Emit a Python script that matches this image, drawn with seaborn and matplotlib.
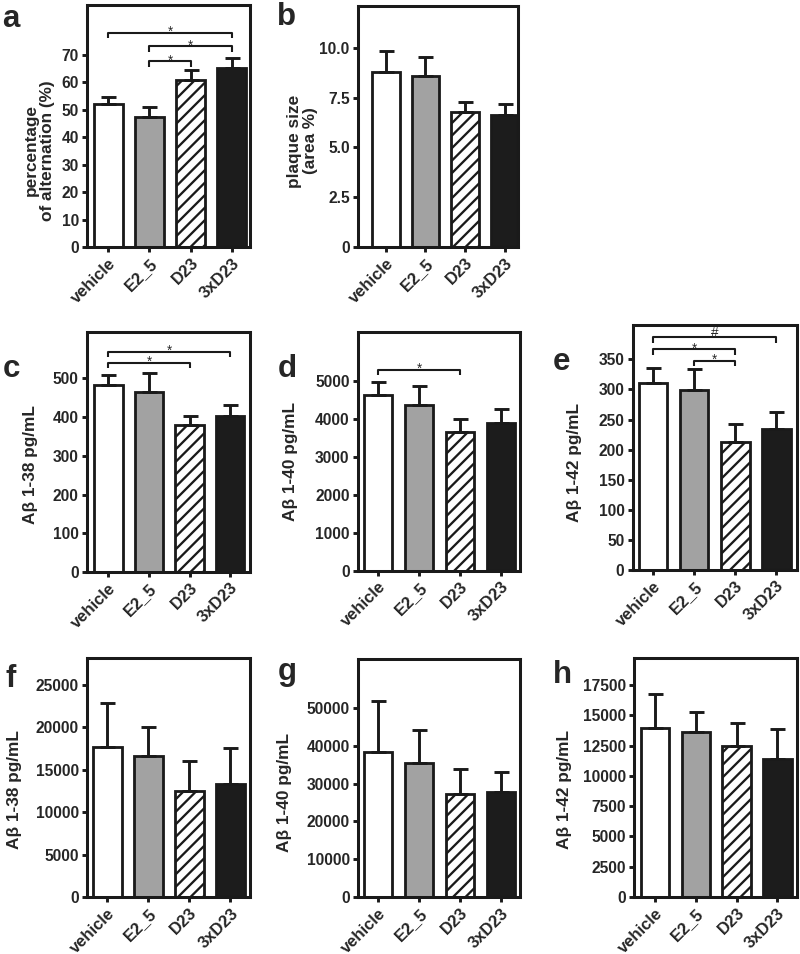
import seaborn as sns
import matplotlib.pyplot as plt
import numpy as np

sns.set_style("ticks")
plt.rcParams['font.family'] = ['Liberation Sans', 'DejaVu Sans']
plt.rcParams['font.weight'] = 'bold'
plt.rcParams['axes.labelweight'] = 'bold'
plt.rcParams['hatch.linewidth'] = 1.1
plt.rcParams['hatch.color'] = '#1a1a1a'

groups = ['vehicle', 'E2_5', 'D23', '3xD23']
bar_colors = ['white', '#a2a2a2', 'white', '#1c1c1c']

# a: percentage of alternation
alt_mean = [51.9, 47.3, 60.6, 65.0]
alt_err = [2.5, 3.6, 3.8, 3.6]
# b: plaque size
plaque_mean = [8.78, 8.61, 6.78, 6.62]
plaque_err = [1.05, 0.94, 0.49, 0.55]
# c-e: Abeta (first set)
ab38_mean = [482, 465, 379, 403]
ab38_err = [28, 50, 24, 28]
ab40_mean = [4631, 4367, 3664, 3902]
ab40_err = [351, 501, 326, 351]
ab42_mean = [311, 299, 213, 234]
ab42_err = [25, 35, 29.5, 29]
# f-h: Abeta (second set)
ab38b_mean = [17660, 16680, 12520, 13340]
ab38b_err = [5180, 3340, 3530, 4200]
ab40b_mean = [38400, 35500, 27150, 27860]
ab40b_err = [13360, 8790, 6590, 5270]
ab42b_mean = [13980, 13600, 12500, 11370]
ab42b_err = [2780, 1650, 1840, 2480]

# significance brackets: (from, to, height, mark)
sig_a = [(0, 3, 78, '*'), (1, 3, 73, '*'), (1, 2, 67.5, '*')]
sig_c = [(0, 3, 569, '*'), (0, 2, 540, '*')]
sig_d = [(0, 2, 5290, '*')]
sig_e = [(0, 3, 386.5, '#'), (0, 2, 366.5, '*'), (1, 2, 347.7, '*')]

panels = [
    # letter, means, errs, ylabel, ticks, ticklabels, ylim top, xlim, axes rect, label coords, letter pos, brackets
    ('a', alt_mean, alt_err, 'percentage\nof alternation (%)', list(range(0, 71, 10)), None, 88,
     (-0.51, 3.45), [0.109, 0.741, 0.204, 0.2537], (-0.20, 0.40), (2, 27), sig_a),
    ('b', plaque_mean, plaque_err, 'plaque size\n(area %)', [0, 2.5, 5, 7.5, 10],
     ['0', '2.5', '5.0', '7.5', '10.0'], 12.1,
     (-0.7, 3.33), [0.4475, 0.741, 0.2, 0.2527], (-0.25, 0.44), (277, 25), []),
    ('c', ab38_mean, ab38_err, 'Aβ 1-38 pg/mL', list(range(0, 501, 100)), None, 620,
     (-0.52, 3.5), [0.109, 0.4004, 0.204, 0.2516], (-0.30, 0.446), (3, 377), sig_c),
    ('d', ab40_mean, ab40_err, 'Aβ 1-40 pg/mL', list(range(0, 5001, 1000)), None, 6290,
     (-0.49, 3.46), [0.4475, 0.4015, 0.2025, 0.2505], (-0.37, 0.456), (278, 377), sig_d),
    ('e', ab42_mean, ab42_err, 'Aβ 1-42 pg/mL', list(range(0, 351, 50)), None, 407,
     (-0.49, 3.5), [0.791, 0.4025, 0.205, 0.2568], (-0.31, 0.437), (553, 370), sig_e),
    ('f', ab38b_mean, ab38b_err, 'Aβ 1-38 pg/mL', list(range(0, 25001, 5000)), None, 28180,
     (-0.49, 3.49), [0.109, 0.0597, 0.204, 0.2505], (-0.40, 0.45), (5, 687), []),
    ('g', ab40b_mean, ab40b_err, 'Aβ 1-40 pg/mL', list(range(0, 50001, 10000)), None, 62960,
     (-0.49, 3.46), [0.4475, 0.0597, 0.2025, 0.2495], (-0.41, 0.44), (278, 680), []),
    ('h', ab42b_mean, ab42b_err, 'Aβ 1-42 pg/mL', list(range(0, 17501, 2500)), None, 19720,
     (-0.52, 3.49), [0.7925, 0.0597, 0.204, 0.2505], (-0.38, 0.45), (553, 683), []),
]

dark = '#1a1a1a'
fig = plt.figure(figsize=(800 / 150, 954 / 150))

for (letter, means, errs, ylabel, yticks, yticklabels, ytop, xlim, rect,
     lab_xy, letter_xy, brackets) in panels:
    ax = fig.add_axes(rect)
    sns.barplot(x=groups, y=means, hue=groups, palette=bar_colors, legend=False,
                saturation=1, width=0.7, edgecolor=dark, linewidth=1.35, ax=ax)
    ax.patches[2].set_hatch('////')
    ax.errorbar(range(4), means, yerr=[np.zeros(4), errs], fmt='none', ecolor=dark,
                elinewidth=1.4, capsize=3.6, capthick=1.4, zorder=5)

    ax.set_xlim(*xlim)
    ax.set_ylim(0, ytop)
    ax.set_yticks(yticks)
    if yticklabels is not None:
        ax.set_yticklabels(yticklabels)
    ax.set_xticks(range(4))
    ax.set_xticklabels(groups, rotation=45, ha='right', rotation_mode='anchor')
    ax.tick_params(axis='both', width=1.4, length=2.5, pad=1.5, color=dark)
    ax.tick_params(axis='y', labelsize=7.5)
    ax.tick_params(axis='x', labelsize=8)
    ax.set_ylabel(ylabel, fontsize=8.3, linespacing=1.05)
    ax.yaxis.set_label_coords(*lab_xy)
    ax.set_xlabel('')
    for sp in ax.spines.values():
        sp.set_visible(True)
        sp.set_linewidth(1.45)
        sp.set_color(dark)

    drop = 0.022 * ytop
    for x0, x1, h, mark in brackets:
        ax.plot([x0, x0, x1, x1], [h - drop, h, h, h - drop], color=dark, lw=1.0,
                solid_capstyle='butt', clip_on=False)
        off = -1.5 if mark == '*' else 0.3
        ax.annotate(mark, xy=((x0 + x1) / 2, h), xytext=(0, off), textcoords='offset points',
                    ha='center', va='baseline', fontsize=6.5, fontweight='normal')

    fig.text(letter_xy[0] / 800, 1 - letter_xy[1] / 954, letter, fontsize=15,
             fontweight='bold', ha='left', va='baseline')

plt.savefig('out.png', dpi=150)
